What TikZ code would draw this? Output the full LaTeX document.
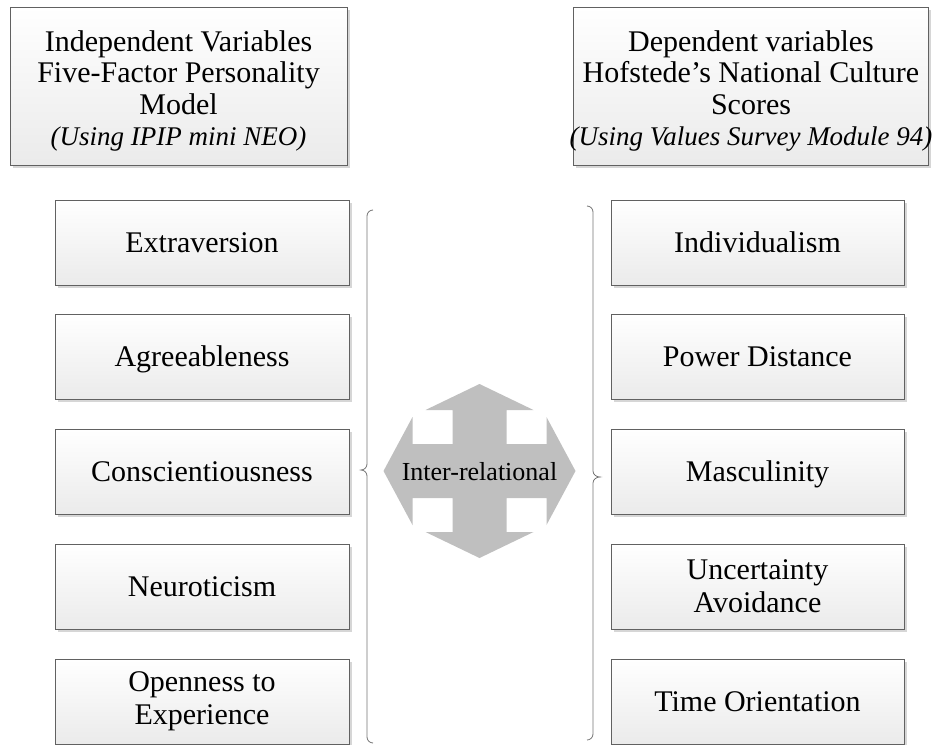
\documentclass[tikz,border=0pt]{standalone}
\usepackage{fontspec}
\setmainfont{Liberation Serif}
\usetikzlibrary{shadows}
\tikzset{
  box/.style={draw=black!62, line width=0.8pt, top color=white, bottom color=black!8,
    drop shadow={shadow xshift=2.5pt, shadow yshift=-2.5pt, fill=black!16, opacity=1},
    align=center, inner sep=0pt, font=\fontsize{30}{33}\selectfont},
  item/.style={box, minimum width=294pt, minimum height=85pt},
  one/.style={text height=20.5pt, text depth=0pt},
  head/.style={box, minimum width=337pt, minimum height=158pt},
  headtext/.style={align=center, inner sep=0pt, font=\fontsize{30}{31.5}\selectfont},
  bracket/.style={draw=black!55, line width=0.8pt},
  quad/.style={fill=black!25, draw=none}
}
\newcommand{\itl}[1]{{\fontsize{27}{31.5}\selectfont\itshape #1}}
\begin{document}
\begin{tikzpicture}[x=1pt,y=-1pt]
\useasboundingbox (0,0) rectangle (938,745);
% header boxes
\node[head] (hl) at (178.5,86) {};
\node[headtext] (hlt) at (178.5,91) {Independent Variables\\Five-Factor Personality\\Model\\\itl{(Using IPIP mini NEO)}};
\node[head, minimum width=355pt] (hr) at (750.5,86) {};
\node[headtext] (hrt) at (751,91) {Dependent variables\\Hofstede’s National Culture\\Scores\\\itl{(Using Values Survey Module 94)}};
% left column
\node[item, one] (l1) at (202,242.5) {Extraversion};
\node[item, one] (l2) at (202,356.5) {Agreeableness};
\node[item, one] (l3) at (202,471.5) {Conscientiousness};
\node[item, one] (l4) at (202,586.5) {Neuroticism};
\node[item] (l5) at (202,701.5) {Openness to\\Experience};
% right column
\node[item, one, minimum width=293pt] (r1) at (757.5,242.5) {Individualism};
\node[item, one, minimum width=293pt] (r2) at (757.5,356.5) {Power Distance};
\node[item, one, minimum width=293pt] (r3) at (757.5,471.5) {Masculinity};
\node[item, minimum width=293pt] (r4) at (757.5,586.5) {Uncertainty\\Avoidance};
\node[item, one, minimum width=293pt] (r5) at (757.5,701.5) {Time Orientation};
% braces
\draw[bracket] (373,210) to[out=180,in=90] (367,216) -- (367,464) to[out=-90,in=0] (361,470)
  to[out=0,in=90] (367,476) -- (367,737) to[out=-90,in=180] (373,743);
\draw[bracket] (587,206) to[out=0,in=90] (593,212) -- (593,471) to[out=-90,in=180] (600,477)
  to[out=180,in=90] (593,483) -- (593,734) to[out=-90,in=0] (587,740);
% quad arrow
\begin{scope}[shift={(479.5,471)}]
\fill[quad] (0,-87) -- (54,-61) -- (27,-61) -- (27,-27) -- (67,-27) -- (67,-54) -- (96,0)
  -- (67,54) -- (67,27) -- (27,27) -- (27,61) -- (54,61) -- (0,87) -- (-54,61) -- (-27,61)
  -- (-27,27) -- (-67,27) -- (-67,54) -- (-96,0) -- (-67,-54) -- (-67,-27) -- (-27,-27)
  -- (-27,-61) -- (-54,-61) -- cycle;
\end{scope}
\node[font=\fontsize{26}{30}\selectfont, inner sep=0pt, text height=18pt, text depth=0pt] (ir) at (479.5,471) {Inter-relational};
\end{tikzpicture}
\end{document}
